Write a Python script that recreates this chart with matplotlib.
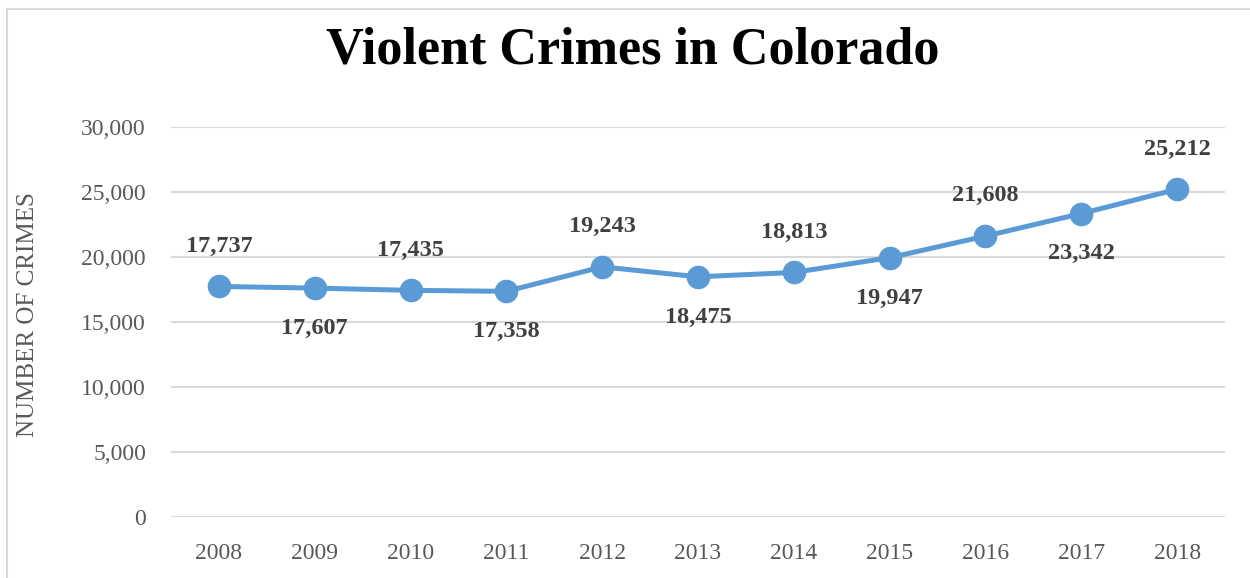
import matplotlib.pyplot as plt
import matplotlib.patches as mpatches
from matplotlib.ticker import FuncFormatter, MultipleLocator

# ── Data ──────────────────────────────────────────────────────────────────────
years = ['2008', '2009', '2010', '2011', '2012', '2013',
         '2014', '2015', '2016', '2017', '2018']
crimes = [17737, 17607, 17435, 17358, 19243, 18475,
          18813, 19947, 21608, 23342, 25212]
label_above = [True, False, True, False, True, False,
               True, False, True, False, True]

LINE_BLUE = '#5B9BD5'
GRID_GRAY = '#D9D9D9'
TICK_GRAY = '#595959'
LABEL_DARK = '#404040'
SERIF = ['Liberation Serif', 'DejaVu Serif']

plt.rcParams['font.family'] = SERIF

fig = plt.figure(figsize=(12.5, 5.78), dpi=100)

# chart-area border (runs off the right/bottom edge like the screenshot)
fig.patches.append(mpatches.Rectangle(
    (7 / 1250, -0.05), 1.2, 1 - 9 / 578 + 0.05,
    transform=fig.transFigure, fill=False,
    edgecolor=GRID_GRAY, linewidth=1.5))

ax = fig.add_axes([171 / 1250, 1 - 517 / 578, (1225 - 171) / 1250,
                   (517 - 127) / 578])

x = list(range(len(years)))
ax.plot(x, crimes, color=LINE_BLUE, lw=3.6, marker='o', ms=16,
        markerfacecolor=LINE_BLUE, markeredgecolor=LINE_BLUE,
        solid_capstyle='round', zorder=3)

for xi, val, up in zip(x, crimes, label_above):
    ax.annotate(f'{val:,}', (xi, val),
                xytext=(0, 29 if up else -29), textcoords='offset points',
                ha='center', va='center', fontsize=17.5, fontweight='bold',
                color=LABEL_DARK)

ax.set_xlim(-0.5, len(years) - 0.5)
ax.set_ylim(0, 30000)
ax.set_xticks(x)
ax.set_xticklabels(years)
ax.yaxis.set_major_locator(MultipleLocator(5000))
ax.yaxis.set_major_formatter(FuncFormatter(lambda v, _: f'{int(v):,}'))

ax.grid(axis='y', color=GRID_GRAY, linewidth=1.5)
ax.set_axisbelow(True)
for side in ax.spines.values():
    side.set_visible(False)
ax.tick_params(axis='both', length=0, labelsize=17, labelcolor=TICK_GRAY)
ax.tick_params(axis='y', pad=18)
ax.tick_params(axis='x', pad=19)

ax.set_ylabel('NUMBER OF CRIMES', fontsize=18, color=TICK_GRAY)
ax.yaxis.set_label_coords((39 - 171) / 1054, 0.52)

fig.text(0.506, 1 - 50 / 578, 'Violent Crimes in Colorado',
         ha='center', va='center', fontsize=37.5, fontweight='bold',
         color='black')

fig.savefig('out.png', dpi=100)
